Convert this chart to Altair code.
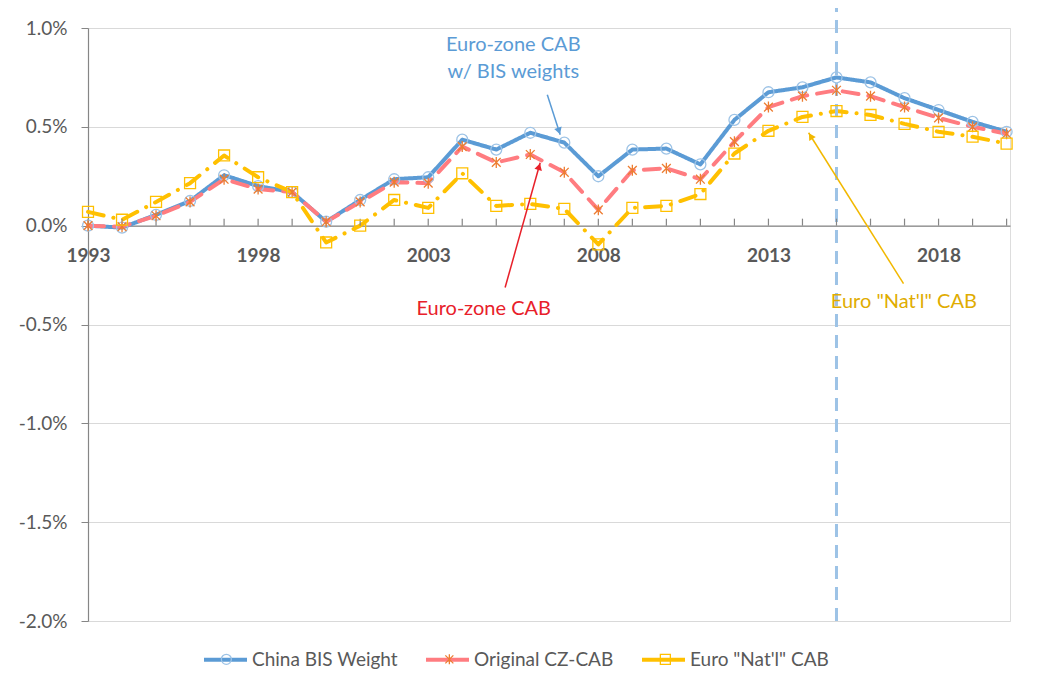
import math
import altair as alt
import pandas as pd

# ---------------- data (percent of GDP) ----------------
years = list(range(1993, 2021))
series_names = ["China BIS Weight", "Original CZ-CAB", "Euro \"Nat'l\" CAB"]
china_bis = [0.00, -0.01, 0.055, 0.125, 0.255, 0.20, 0.17, 0.02, 0.13, 0.235,
             0.245, 0.435, 0.385, 0.47, 0.42, 0.25, 0.385, 0.39, 0.31, 0.535,
             0.675, 0.70, 0.75, 0.725, 0.645, 0.585, 0.525, 0.475]
orig_cz = [0.00, -0.005, 0.05, 0.12, 0.235, 0.185, 0.17, 0.02, 0.12, 0.22,
           0.215, 0.40, 0.32, 0.36, 0.27, 0.08, 0.28, 0.29, 0.235, 0.425,
           0.60, 0.655, 0.685, 0.655, 0.60, 0.545, 0.50, 0.465]
euro_natl = [0.07, 0.03, 0.12, 0.215, 0.355, 0.245, 0.17, -0.085, 0.00, 0.13,
             0.09, 0.265, 0.10, 0.11, 0.085, -0.095, 0.09, 0.10, 0.16, 0.365,
             0.48, 0.55, 0.58, 0.56, 0.515, 0.475, 0.45, 0.415]

x_label_years = [1993, 1998, 2003, 2008, 2013, 2018]
y_tick_values = [-2.0, -1.5, -1.0, -0.5, 0.0, 0.5, 1.0]
vline_year = [2015]

line_colors = ["#5B9BD5", "#FF7C80", "#FFC000"]
marker_colors = ["#9DC3E6", "#ED7D31", "#FFC000"]
ASTER = "M0,-1L0,1M-0.8,-0.8L0.8,0.8M-0.8,0.8L0.8,-0.8"
marker_shapes = ["circle", ASTER, "square"]
dashes = [[1, 0], [16, 10], [16, 10, 0.1, 10]]

# annotation texts (x in years, y in percent)
ann_blue = {"text": ["Euro-zone CAB", "w/ BIS weights"], "x": [2005.5, 2005.5], "y": [0.914, 0.778]}
ann_red = {"text": ["Euro-zone CAB"], "x": [2004.63], "y": [-0.424]}
ann_gold = {"text": ["Euro \"Nat'l\" CAB"], "x": [2016.98], "y": [-0.384]}
# arrows: start -> tip
arrows = {
    "x": [2006.5, 2005.26, 2016.97],
    "y": [0.662, -0.313, -0.293],
    "x2": [2006.88, 2006.29, 2014.18],
    "y2": [0.46, 0.318, 0.47],
    "color": ["#5B9BD5", "#E8202A", "#F2B800"],
}

FONT = "Lato"
W, H = 922, 593
X_DOMAIN = [1993, 2020.1]
Y_DOMAIN = [-0.02, 0.01]
PX_PER_YEAR = W / (X_DOMAIN[1] - X_DOMAIN[0])
PX_PER_UNIT = H / (Y_DOMAIN[1] - Y_DOMAIN[0])
ZERO_PX = H * Y_DOMAIN[1] / (Y_DOMAIN[1] - Y_DOMAIN[0])

LEG_X, LEG_Y = 114, 608
SYM_W, PT_W = 43, 10
LABEL_OFF = 3
# legend layout: centre of each line-legend swatch (relative to plot left) and row centre
MARKER_LEG_CX = [138, 361, 577]
MARKER_LEG_CY = 631

# ---------------- tables ----------------
rows = []
for name, vals in zip(series_names, [china_bis, orig_cz, euro_natl]):
    for yr, v in zip(years, vals):
        rows.append({"year": yr, "value": v / 100.0, "series": name})
df = pd.DataFrame(rows)

xs = alt.Scale(domain=X_DOMAIN, nice=False, zero=False)
ys = alt.Scale(domain=Y_DOMAIN, nice=False, zero=False)

x_enc = alt.X("year:Q", scale=xs, title=None,
              axis=alt.Axis(values=x_label_years, format="d", ticks=False, grid=False,
                            labelFlush=False, labelOverlap=False,
                            domainColor="#868686", domainWidth=1.2,
                            offset=-(H - ZERO_PX),
                            labelFont=FONT, labelFontSize=19, labelFontWeight="bold",
                            labelColor="#595959", labelPadding=21))
y_enc = alt.Y("value:Q", scale=ys, title=None,
              axis=alt.Axis(values=[v / 100 for v in y_tick_values], format=".1%",
                            labelExpr="replace(datum.label, '\u2212', '-')",
                            tickSize=7, tickColor="#868686", domainColor="#868686",
                            domainWidth=1.2, gridColor="#D9D9D9", gridWidth=1,
                            labelFont=FONT, labelFontSize=19, labelColor="#595959",
                            labelPadding=14))

base = alt.Chart(df)

lines = base.mark_line(strokeWidth=4, strokeCap="round", strokeJoin="round").encode(
    x=x_enc, y=y_enc,
    color=alt.Color("series:N", sort=series_names,
                    scale=alt.Scale(domain=series_names, range=line_colors),
                    legend=alt.Legend(title=None, orient="none", direction="horizontal",
                                      legendX=LEG_X, legendY=LEG_Y,
                                      symbolType="stroke", symbolSize=SYM_W * SYM_W,
                                      symbolStrokeWidth=4, labelOffset=LABEL_OFF,
                                      columnPadding=20,
                                      labelFont=FONT, labelFontSize=19, labelColor="#595959")),
    strokeDash=alt.StrokeDash("series:N", sort=series_names,
                              scale=alt.Scale(domain=series_names, range=dashes),
                              legend=None),
    order=alt.Order("year:Q"),
)

# one marker layer per series, each with its own one-entry (marker only) legend
point_layers = []
for i, name in enumerate(series_names):
    leg = alt.Legend(title=None, orient="none", direction="horizontal",
                     legendX=MARKER_LEG_CX[i] - PT_W / 2 - 0.65,
                     legendY=MARKER_LEG_CY - PT_W / 2 - 0.65,
                     symbolSize=PT_W * PT_W, symbolStrokeWidth=1.3,
                     symbolFillColor="white", labelExpr="''", labelOffset=0,
                     labelFontSize=1)
    point_layers.append(
        alt.Chart(df[df["series"] == name]).mark_point(
            filled=False, strokeWidth=1.3, size=120, opacity=1).encode(
            x=alt.X("year:Q", scale=xs),
            y=alt.Y("value:Q", scale=ys),
            shape=alt.Shape("series:N", scale=alt.Scale(domain=[name], range=[marker_shapes[i]]),
                            legend=leg),
            stroke=alt.Stroke("series:N", scale=alt.Scale(domain=[name], range=[marker_colors[i]]),
                              legend=leg),
        )
    )

# x-axis ticks sitting on the zero line, pointing up
tick_df = pd.DataFrame({"year": years, "zero": [0.0] * len(years)})
xticks = alt.Chart(tick_df).mark_rule(color="#868686", strokeWidth=1.2, y2Offset=-7).encode(
    x=alt.X("year:Q", scale=xs), y=alt.Y("zero:Q", scale=ys), y2="zero:Q")

vl_df = pd.DataFrame({"year": vline_year, "lo": [Y_DOMAIN[0]], "hi": [0.0111]})
vline = alt.Chart(vl_df).mark_rule(color="#9DC3E6", strokeWidth=3, strokeDash=[13, 8]).encode(
    x=alt.X("year:Q", scale=xs), y=alt.Y("lo:Q", scale=ys), y2="hi:Q")


def text_layer(d, color):
    t = pd.DataFrame({"text": d["text"], "x": d["x"], "y": [v / 100 for v in d["y"]]})
    return alt.Chart(t).mark_text(font=FONT, fontSize=20, color=color, align="center",
                                  baseline="middle").encode(
        x=alt.X("x:Q", scale=xs), y=alt.Y("y:Q", scale=ys), text="text:N")


txt_blue = text_layer(ann_blue, "#5B9BD5")
txt_red = text_layer(ann_red, "#E8202A")
txt_gold = text_layer(ann_gold, "#E0AC00")

# arrows
ar = pd.DataFrame(arrows)
ar["y"] = ar["y"] / 100
ar["y2"] = ar["y2"] / 100
angles, hx, hy = [], [], []
for _, r in ar.iterrows():
    dx = (r["x2"] - r["x"]) * PX_PER_YEAR
    dy = -(r["y2"] - r["y"]) * PX_PER_UNIT
    ln = math.hypot(dx, dy)
    angles.append(math.degrees(math.atan2(dx, -dy)) % 360)
    back = 4.0
    hx.append(r["x2"] - (dx / ln) * back / PX_PER_YEAR)
    hy.append(r["y2"] + (dy / ln) * back / PX_PER_UNIT)
ar["angle"] = angles
ar["hx"] = hx
ar["hy"] = hy

arrow_lines = alt.Chart(ar).mark_rule(strokeWidth=1.5).encode(
    x=alt.X("x:Q", scale=xs), y=alt.Y("y:Q", scale=ys), x2="x2:Q", y2="y2:Q",
    color=alt.Color("color:N", scale=None))
arrow_heads = alt.Chart(ar).mark_point(shape="triangle-up", filled=True, size=60, opacity=1).encode(
    x=alt.X("hx:Q", scale=xs), y=alt.Y("hy:Q", scale=ys),
    angle=alt.Angle("angle:Q", scale=None),
    fill=alt.Fill("color:N", scale=None))

chart = alt.layer(
    lines, vline, xticks, *point_layers, arrow_lines, arrow_heads, txt_blue, txt_red, txt_gold
).resolve_scale(color="independent", shape="independent", stroke="independent").properties(
    width=W, height=H,
    autosize=alt.AutoSizeParams(type="none"),
    padding={"left": 80, "top": 20, "right": 20, "bottom": 51},
).configure_view(stroke=None).configure(background="white")

chart.save("out.html", embed_options={"renderer": "svg", "actions": False})
